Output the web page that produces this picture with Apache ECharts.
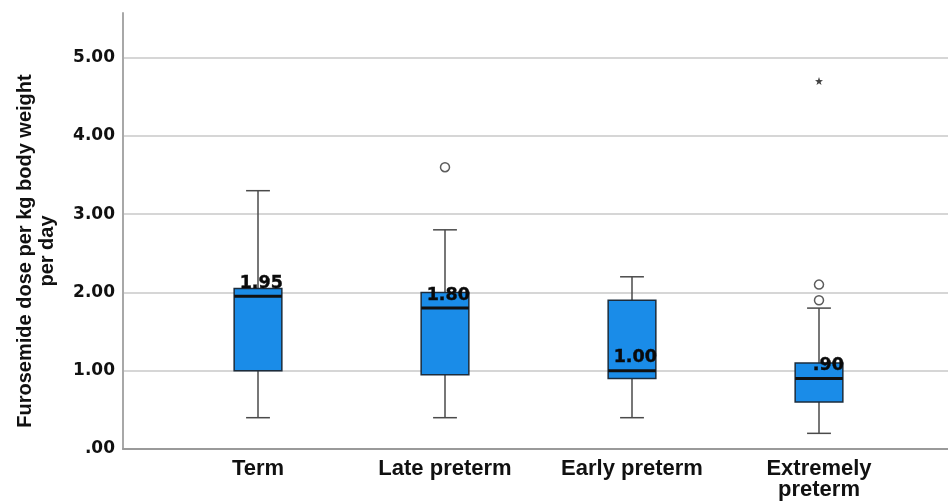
<!DOCTYPE html>
<html>
<head>
<meta charset="utf-8">
<script src="https://cdn.jsdelivr.net/npm/echarts@6/dist/echarts.min.js"></script>
<style>
html,body{margin:0;padding:0;background:#fff;}
#chart{width:948px;height:502px;}
</style>
</head>
<body>
<div id="chart"></div>
<script>
// ---- data ----
const categories = ['Term', 'Late preterm', 'Early preterm', 'Extremely\npreterm'];
const whiskerLow  = [0.40, 0.40, 0.40, 0.20];
const q1          = [1.00, 0.95, 0.90, 0.60];
const median      = [1.95, 1.80, 1.00, 0.90];
const q3          = [2.05, 2.00, 1.90, 1.10];
const whiskerHigh = [3.30, 2.80, 2.20, 1.80];
const outliers    = [[1, 3.60], [3, 1.90], [3, 2.10]];   // circles
const extremes    = [[3, 4.70]];                          // asterisks
const yTicks      = [0, 1, 2, 3, 4, 5];
const yTitle      = 'Furosemide dose per kg body weight\nper day';

const Y_MAX = 5.57;
function spss(v){ const s = v.toFixed(2); return v < 1 ? s.replace(/^0/, '') : s; }

const boxData = categories.map((c, i) => [i, whiskerLow[i], q1[i], median[i], q3[i], whiskerHigh[i]]);

const chart = echarts.init(document.getElementById('chart'), null, {renderer: 'canvas'});

function renderBox(params, api){
  const i = api.value(0);
  const bw = api.size([1, 0])[0] * 0.255;
  const cx = api.coord([i, 0])[0];
  const yLo = api.coord([i, api.value(1)])[1];
  const yQ1 = api.coord([i, api.value(2)])[1];
  const yMd = api.coord([i, api.value(3)])[1];
  const yQ3 = api.coord([i, api.value(4)])[1];
  const yHi = api.coord([i, api.value(5)])[1];
  const x0 = cx - bw / 2, x1 = cx + bw / 2;
  const cap = bw / 4;
  const wStyle = {stroke: '#4a4a4a', lineWidth: 1.5};
  return {
    type: 'group',
    children: [
      {type: 'line', shape: {x1: cx, y1: yQ3, x2: cx, y2: yHi}, style: wStyle},
      {type: 'line', shape: {x1: cx, y1: yQ1, x2: cx, y2: yLo}, style: wStyle},
      {type: 'line', shape: {x1: cx - cap, y1: yHi, x2: cx + cap, y2: yHi}, style: wStyle},
      {type: 'line', shape: {x1: cx - cap, y1: yLo, x2: cx + cap, y2: yLo}, style: wStyle},
      {type: 'rect', shape: {x: x0, y: yQ3, width: bw, height: yQ1 - yQ3},
        style: {fill: '#1a8ce8', stroke: '#1c2c3c', lineWidth: 1.5}},
      {type: 'line', shape: {x1: x0, y1: yMd, x2: x1, y2: yMd},
        style: {stroke: '#111', lineWidth: 3}},
      {type: 'text', x: x1 + 1, y: yMd - 4,
        style: {text: spss(api.value(3)), fill: '#0a0a0a', fontFamily: 'DejaVu Sans',
          fontWeight: 'bold', fontSize: 17.5, align: 'right', verticalAlign: 'bottom',
          stroke: '#0a0a0a', lineWidth: 0.4}}
    ]
  };
}

const option = {
  backgroundColor: '#fff',
  animation: false,
  grid: [
    {left: 123, right: 0, top: 13, bottom: 53},
    {left: 164.5, right: 35.5, top: 13, bottom: 53}
  ],
  xAxis: [
    {gridIndex: 0, type: 'category', data: [''], axisLine: {show: true, lineStyle: {color: '#9a9a9a', width: 2}},
      axisTick: {show: false}, axisLabel: {show: false}, splitLine: {show: false}},
    {gridIndex: 1, type: 'category', data: categories,
      axisLine: {show: false}, axisTick: {show: false}, splitLine: {show: false},
      axisLabel: {color: '#111', fontFamily: 'Liberation Sans', fontWeight: 'bold', fontSize: 22,
        lineHeight: 21, margin: 9, interval: 0}}
  ],
  yAxis: [
    {gridIndex: 0, type: 'value', min: 0, max: Y_MAX, interval: 1,
      axisLine: {show: true, lineStyle: {color: '#a8a8a8', width: 2}},
      axisTick: {show: false},
      axisLabel: {showMaxLabel: false, margin: 8, color: '#111', fontFamily: 'DejaVu Sans', fontWeight: 'bold', fontSize: 17,
        formatter: v => (yTicks.indexOf(v) >= 0 ? spss(v) : '')},
      splitLine: {show: true, showMaxLine: false, showMinLine: false, lineStyle: {color: '#d6d6d6', width: 2}}},
    {gridIndex: 1, type: 'value', min: 0, max: Y_MAX, interval: 1, show: false, splitLine: {show: false}}
  ],
  graphic: [
    {type: 'text', x: 36, y: 251, rotation: Math.PI / 2,
      style: {text: yTitle, fill: '#111', font: 'bold 20px "Liberation Sans"', fontFamily: 'Liberation Sans', fontWeight: 'bold',
        fontSize: 20, lineHeight: 22, align: 'center', verticalAlign: 'middle'}}
  ],
  series: [
    {type: 'custom', xAxisIndex: 1, yAxisIndex: 1, renderItem: renderBox, data: boxData,
      encode: {x: 0, y: [1, 2, 3, 4, 5]}, z: 5},
    {type: 'scatter', xAxisIndex: 1, yAxisIndex: 1, data: outliers, symbol: 'circle', symbolSize: 9,
      itemStyle: {color: '#fff', borderColor: '#333', borderWidth: 1.5}, z: 6},
    {type: 'scatter', xAxisIndex: 1, yAxisIndex: 1, data: extremes,
      symbol: 'path://M0,-10 L2.35,-3.2 L9.5,-3.1 L3.8,1.2 L5.9,8.1 L0,4 L-5.9,8.1 L-3.8,1.2 L-9.5,-3.1 L-2.35,-3.2 Z',
      symbolSize: 8, itemStyle: {color: '#111'}, z: 6}
  ]
};
chart.setOption(option);
</script>
</body>
</html>
